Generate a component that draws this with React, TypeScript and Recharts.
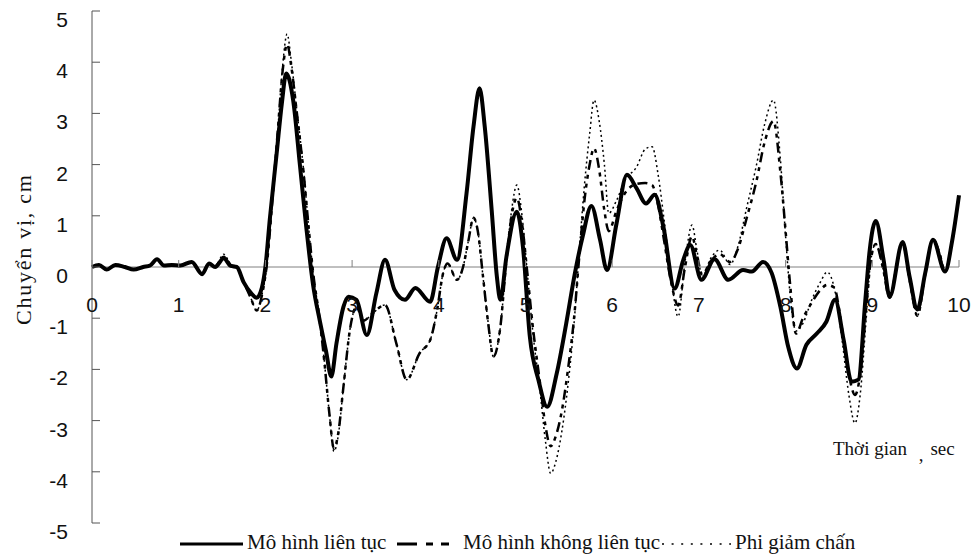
import { Line, LineChart, ReferenceLine, XAxis, YAxis } from "recharts";

// thời gian (s) và chuyển vị (cm) - mô hình liên tục
const tSolid = [
	0, 0.08, 0.17, 0.27, 0.38, 0.48, 0.59, 0.67, 0.75, 0.83,
	0.92, 1.02, 1.15, 1.27, 1.35, 1.42, 1.52, 1.6, 1.67, 1.75,
	1.83, 1.9, 1.96, 2.0, 2.05, 2.13, 2.19, 2.24, 2.32, 2.4,
	2.47, 2.55, 2.63, 2.7, 2.76, 2.82, 2.9, 2.96, 3.05, 3.17,
	3.28, 3.38, 3.49, 3.61, 3.73, 3.9, 3.99, 4.09, 4.21, 4.32,
	4.4, 4.47, 4.53, 4.61, 4.67, 4.71, 4.78, 4.9, 4.97, 5.05,
	5.15, 5.25, 5.36, 5.47, 5.57, 5.66, 5.76, 5.86, 5.94, 6.05,
	6.17, 6.28, 6.39, 6.49, 6.59, 6.72, 6.82, 6.9, 7.03, 7.18,
	7.34, 7.51, 7.61, 7.74, 7.84, 7.94, 8.03, 8.13, 8.24, 8.36,
	8.47, 8.57, 8.67, 8.76, 8.84, 8.92, 8.97, 9.04, 9.13, 9.2,
	9.35, 9.43, 9.52, 9.61, 9.7, 9.84, 9.92, 10,
];
const vSolid = [
	0, 0.04, -0.05, 0.04, 0, -0.05, 0, 0.03, 0.15, 0.03,
	0.04, 0.03, 0.1, -0.14, 0.07, 0, 0.17, 0.02, 0, -0.3,
	-0.5, -0.6, -0.4, 0, 0.92, 2.22, 3.2, 3.78, 3.26, 1.96,
	0.8, -0.35, -1.07, -1.65, -2.14, -1.49, -0.78, -0.58, -0.64, -1.33,
	-0.51, 0.14, -0.45, -0.64, -0.41, -0.68, 0, 0.56, 0.14, 1.44,
	2.74, 3.49, 2.74, 1.11, -0.19, -0.64, 0.2, 1.08, 0.4, -1.36,
	-2.21, -2.73, -2.08, -1.1, -0.12, 0.6, 1.19, 0.53, -0.06, 0.85,
	1.8, 1.54, 1.24, 1.41, 0.79, -0.42, 0.14, 0.43, -0.25, 0.15,
	-0.25, -0.06, -0.09, 0.1, -0.12, -0.78, -1.56, -1.98, -1.52, -1.3,
	-1.07, -0.64, -1.43, -2.24, -2.2, -0.64, 0.33, 0.9, 0.14, -0.58,
	0.49, -0.19, -0.83, -0.12, 0.53, -0.09, 0.5, 1.4,
];

// thời gian chung cho hai đường còn lại
const tOther = [
	0, 0.08, 0.17, 0.27, 0.38, 0.48, 0.59, 0.67, 0.75, 0.83,
	0.92, 1.02, 1.15, 1.27, 1.35, 1.42, 1.52, 1.6, 1.67, 1.75,
	1.83, 1.9, 1.96, 2.02, 2.08, 2.14, 2.2, 2.25, 2.3, 2.36,
	2.44, 2.5, 2.55, 2.62, 2.68, 2.74, 2.79, 2.84, 2.9, 2.98,
	3.05, 3.13, 3.24, 3.38, 3.51, 3.63, 3.78, 3.9, 3.98, 4.05,
	4.1, 4.21, 4.28, 4.34, 4.4, 4.45, 4.51, 4.57, 4.63, 4.71,
	4.78, 4.84, 4.9, 4.96, 5.02, 5.08, 5.17, 5.23, 5.29, 5.35,
	5.42, 5.49, 5.56, 5.62, 5.68, 5.74, 5.79, 5.85, 5.91, 5.96,
	6.05, 6.15, 6.28, 6.38, 6.46, 6.53, 6.6, 6.68, 6.76, 6.84,
	6.92, 6.98, 7.04, 7.13, 7.24, 7.36, 7.45, 7.55, 7.66, 7.76,
	7.86, 7.94, 8.0, 8.05, 8.12, 8.2, 8.3, 8.4, 8.48, 8.56,
	8.65, 8.73, 8.8, 8.86, 8.93, 8.98, 9.04, 9.12, 9.2, 9.28,
	9.35, 9.43, 9.52, 9.61, 9.7, 9.77, 9.84, 9.92, 10,
];
// mô hình không liên tục
const vDiscrete = [
	0, 0.04, -0.05, 0.04, 0, -0.05, 0, 0.03, 0.15, 0.03,
	0.04, 0.03, 0.1, -0.14, 0.07, 0.02, 0.2, 0.04, 0, -0.3,
	-0.6, -0.85, -0.55, 0.1, 1.3, 2.6, 3.85, 4.35, 3.9, 3.05,
	1.85, 0.75, -0.1, -0.95, -1.85, -2.9, -3.55, -3.25, -2.34, -1.17,
	-0.78, -1.05, -0.9, -0.74, -1.49, -2.2, -1.68, -1.43, -0.84, -0.12,
	0.07, -0.25, 0, 0.5, 0.96, 0.7, -0.19, -1.1, -1.75, -1.17,
	0.14, 1.0, 1.35, 0.85, -0.1, -1.1, -2.3, -3.1, -3.5, -3.3,
	-2.8, -2.0, -1.0, 0.2, 1.3, 2.0, 2.32, 1.9, 1.1, 0.7,
	1.1, 1.45, 1.62, 1.64, 1.6, 1.2, 0.5, -0.3, -0.75, 0.0,
	0.6, 0.2, -0.15, 0.1, 0.25, 0.1, 0.35, 0.95, 1.65, 2.45,
	2.85, 1.85, 0.7, -0.3, -1.3, -1.0, -0.7, -0.45, -0.35, -0.4,
	-1.2, -2.1, -2.5, -2.1, -0.8, 0.1, 0.45, 0.0, -0.6, 0.0,
	0.49, -0.25, -0.95, -0.15, 0.53, 0.3, -0.09, 0.5, 1.4,
];
// phi giảm chấn
const vUndamped = [
	0, 0.04, -0.05, 0.04, 0, -0.05, 0, 0.03, 0.15, 0.03,
	0.04, 0.03, 0.1, -0.14, 0.07, 0.02, 0.25, 0.05, 0, -0.3,
	-0.6, -0.85, -0.55, 0.1, 1.3, 2.6, 3.95, 4.55, 4.0, 3.1,
	1.9, 0.75, -0.1, -0.95, -1.85, -2.9, -3.6, -3.3, -2.34, -1.17,
	-0.78, -1.05, -0.9, -0.74, -1.49, -2.2, -1.68, -1.43, -0.84, -0.12,
	0.07, -0.25, 0, 0.5, 0.96, 0.7, -0.19, -1.1, -1.75, -1.17,
	0.14, 1.11, 1.6, 1.0, -0.1, -1.2, -2.46, -3.4, -4.03, -3.8,
	-3.2, -2.3, -1.1, 0.3, 1.6, 2.6, 3.26, 2.85, 2.0, 1.05,
	1.3, 1.7, 1.95, 2.3, 2.35, 1.8, 0.9, -0.2, -0.97, 0.1,
	0.82, 0.3, -0.2, 0.15, 0.33, 0.05, 0.4, 1.15, 1.96, 2.8,
	3.26, 2.1, 0.6, -0.5, -1.25, -1.1, -0.65, -0.3, -0.1, -0.4,
	-1.4, -2.5, -3.05, -2.5, -1.0, 0.1, 0.45, 0.0, -0.6, 0.0,
	0.49, -0.25, -0.95, -0.15, 0.53, 0.3, -0.09, 0.5, 1.4,
];

const xTicks = [0, 1, 2, 3, 4, 5, 6, 7, 8, 9, 10];
const yTicks = [-5, -4, -3, -2, -1, 0, 1, 2, 3, 4, 5];
const seriesNames = ["Mô hình liên tục", "Mô hình không liên tục", "Phi giảm chấn"];

const W = 977;
const H = 557;
const margin = { top: 11, right: 18, bottom: 0, left: 0 };
const xAxisH = 34;
const yAxisW = 92;
const plotH = H - margin.top - margin.bottom - xAxisH;
const zeroY = margin.top + plotH / 2;

const sans = "'Liberation Sans', Arial, sans-serif";
const serif = "'Liberation Serif', 'Times New Roman', serif";

const rows = (t: number[], v: number[]) => t.map((x, i) => ({ t: x, v: v[i] }));

const solidRows = rows(tSolid, vSolid);
const discreteRows = rows(tOther, vDiscrete);
const undampedRows = rows(tOther, vUndamped);

const styles = [
	{ width: 4, dash: undefined },
	{ width: 2.5, dash: "10 5 4 5 4 5" },
	{ width: 1.5, dash: "2 3" },
];

const YTick = (props: any) => {
	const { x, y, payload } = props;
	return (
		<g>
			<line x1={x} x2={x + 8} y1={y} y2={y} stroke="#555" />
			<text x={x - 24} y={y + 16} textAnchor="end" fontFamily={sans} fontSize={21} fill="#111">
				{payload.value}
			</text>
		</g>
	);
};

const XTick = (props: any) => {
	const { x, payload } = props;
	return (
		<g>
			<line x1={x} x2={x} y1={zeroY} y2={zeroY - 7} stroke="#808080" />
			<text x={x} y={zeroY + 45} textAnchor="middle" fontFamily={sans} fontSize={21} fill="#111">
				{payload.value}
			</text>
		</g>
	);
};

const Overlay = () => {
	const legendY = 544;
	const textY = 549;
	return (
		<svg width={W} height={H} style={{ position: "absolute", left: 0, top: 0, pointerEvents: "none" }}>
			<text
				transform={`translate(31, 250) rotate(-90)`}
				textAnchor="middle"
				fontFamily={serif}
				fontSize={22}
				textLength={150}
				lengthAdjust="spacing"
				fill="#111"
			>
				Chuyển vị, cm
			</text>
			<text x={833} y={455} fontFamily={serif} fontSize={19} fill="#111">
				Thời gian <tspan dx={7} dy={6}>,</tspan>
				<tspan dx={7} dy={-6}>sec</tspan>
			</text>
			<line x1={180} x2={243} y1={legendY} y2={legendY} stroke="#000" strokeWidth={3} />
			<text x={247} y={textY} fontFamily={serif} fontSize={21} fill="#111">
				{seriesNames[0]}
			</text>
			<line x1={397} x2={452} y1={legendY} y2={legendY} stroke="#000" strokeWidth={3} strokeDasharray="20 9 7 8 8 9" />
			<text x={463} y={textY} fontFamily={serif} fontSize={21} fill="#111">
				{seriesNames[1]}
			</text>
			<line x1={662} x2={731} y1={legendY} y2={legendY} stroke="#000" strokeWidth={1.5} strokeDasharray="2 7.6" />
			<text x={735} y={textY} fontFamily={serif} fontSize={21} fill="#111">
				{seriesNames[2]}
			</text>
		</svg>
	);
};

const App = () => {
	return (
		<div style={{ position: "absolute", left: 0, top: 0, width: W, height: H, background: "#fff" }}>
			<LineChart width={W} height={H} margin={margin}>
				<XAxis
					type="number"
					dataKey="t"
					domain={[0, 10]}
					ticks={xTicks}
					height={xAxisH}
					axisLine={false}
					tickLine={false}
					tick={<XTick />}
					interval={0}
				/>
				<YAxis
					type="number"
					domain={[-5, 5]}
					ticks={yTicks}
					width={yAxisW}
					axisLine={{ stroke: "#555" }}
					tickLine={false}
					tickSize={0}
					tickMargin={0}
					tick={<YTick />}
					interval={0}
				/>
				<ReferenceLine y={0} stroke="#808080" />
				<Line data={undampedRows} dataKey="v" name={seriesNames[2]} type="monotone" stroke="#000" strokeWidth={styles[2].width} strokeDasharray={styles[2].dash} dot={false} isAnimationActive={false} />
				<Line data={discreteRows} dataKey="v" name={seriesNames[1]} type="monotone" stroke="#000" strokeWidth={styles[1].width} strokeDasharray={styles[1].dash} dot={false} isAnimationActive={false} />
				<Line data={solidRows} dataKey="v" name={seriesNames[0]} type="monotone" stroke="#000" strokeWidth={styles[0].width} dot={false} isAnimationActive={false} />
			</LineChart>
			<Overlay />
		</div>
	);
};

export default App;
